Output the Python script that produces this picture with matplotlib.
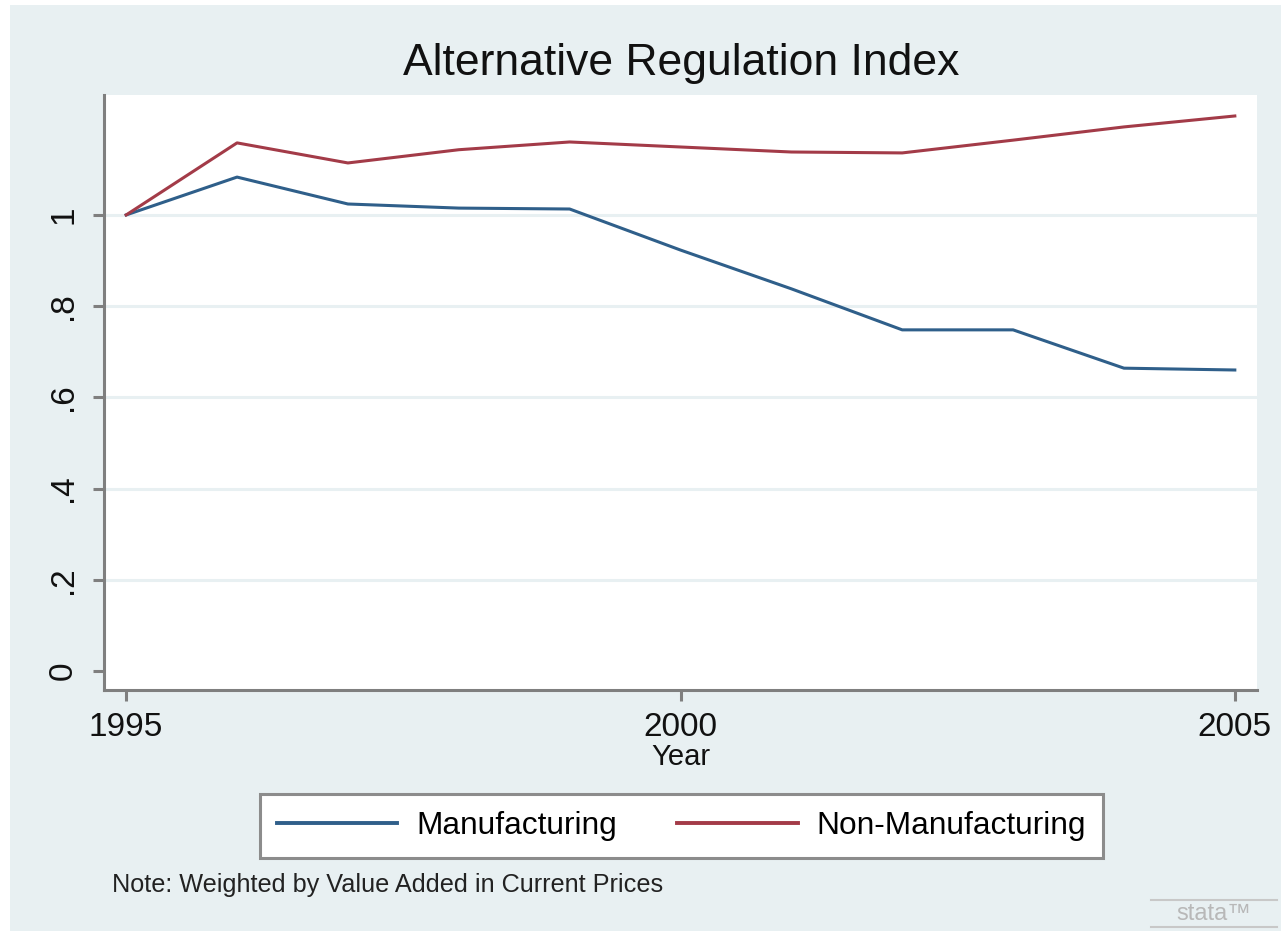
import matplotlib.pyplot as plt
from matplotlib.patches import Rectangle
from matplotlib.lines import Line2D

plt.rcParams['font.family'] = ['Liberation Sans', 'DejaVu Sans']

years = [1995, 1996, 1997, 1998, 1999, 2000, 2001, 2002, 2003, 2004, 2005]
manufacturing = [1.0, 1.083, 1.024, 1.015, 1.013, 0.923, 0.838, 0.748, 0.748, 0.664, 0.660]
non_manufacturing = [1.0, 1.158, 1.114, 1.143, 1.160, 1.149, 1.138, 1.136, 1.164, 1.193, 1.217]

x_ticks = [1995, 2000, 2005]
y_ticks = [0, 0.2, 0.4, 0.6, 0.8, 1.0]
y_labels = ["0", ".2", ".4", ".6", ".8", "1"]

bg = '#e8f0f2'
blue = '#2f5f8a'
red = '#a33b48'
axis_gray = '#7f7f7f'

W, H = 1281, 931
fig = plt.figure(figsize=(W / 100, H / 100), dpi=100)
fig.patch.set_facecolor('white')
fig.add_artist(Rectangle((10 / W, 0), 1 - 10 / W, 1 - 5 / H, transform=fig.transFigure,
                         facecolor=bg, edgecolor='none', zorder=-10))

ax = fig.add_axes([104 / W, 1 - 690 / H, (1257 - 104) / W, (690 - 95) / H])
ax.set_facecolor('white')

for t in y_ticks[1:]:
    ax.axhline(t, color=bg, lw=2.2, zorder=1)

ax.plot(years, manufacturing, color=blue, lw=2.2, label='Manufacturing', zorder=3)
ax.plot(years, non_manufacturing, color=red, lw=2.2, label='Non-Manufacturing', zorder=3)

ax.set_xlim(1994.80, 2005.20)
ax.set_ylim(-0.0417, 1.263)
ax.set_xticks(x_ticks)
ax.set_yticks(y_ticks)
ax.set_yticklabels(y_labels, rotation=90, va='center')

for s in ['top', 'right']:
    ax.spines[s].set_visible(False)
for s in ['left', 'bottom']:
    ax.spines[s].set_color(axis_gray)
    ax.spines[s].set_linewidth(2.2)

ax.tick_params(axis='both', colors=axis_gray, width=2.2, length=8, labelcolor='#111111')
ax.tick_params(axis='x', labelsize=24, pad=8)
ax.tick_params(axis='y', labelsize=24, pad=10)

ax.set_xlabel('Year', fontsize=21, color='#111111', labelpad=0)
fig.text(681 / W, 1 - 63 / H, 'Alternative Regulation Index', fontsize=32,
         ha='center', va='center', color='#111111')

leg = fig.legend(loc='center', bbox_to_anchor=(681.5 / W, 1 - 826 / H), ncol=2,
                 fontsize=22.8, handlelength=3.8, handletextpad=0.6, columnspacing=1.9,
                 borderpad=0.55, fancybox=False, frameon=True)
leg.get_frame().set_edgecolor('#8c8c8c')
leg.get_frame().set_linewidth(2.2)
leg.get_frame().set_facecolor('white')
leg.get_frame().set_alpha(1)
for line in leg.get_lines():
    line.set_linewidth(2.8)

fig.text(112 / W, 1 - 892 / H, 'Note: Weighted by Value Added in Current Prices',
         fontsize=18.2, ha='left', va='baseline', color='#222222')

# stata mark
fig.text(1214 / W, 1 - 914 / H, 'stata\u2122', fontsize=17, ha='center', va='center',
         color='#b8b8b8')
fig.add_artist(Line2D([1151 / W, 1277 / W], [1 - 900 / H, 1 - 900 / H],
                      transform=fig.transFigure, color='#c8c8c8', lw=1.5))
fig.add_artist(Line2D([1151 / W, 1277 / W], [1 - 927 / H, 1 - 927 / H],
                      transform=fig.transFigure, color='#c8c8c8', lw=1.5))

fig.savefig('out.png', dpi=100)
